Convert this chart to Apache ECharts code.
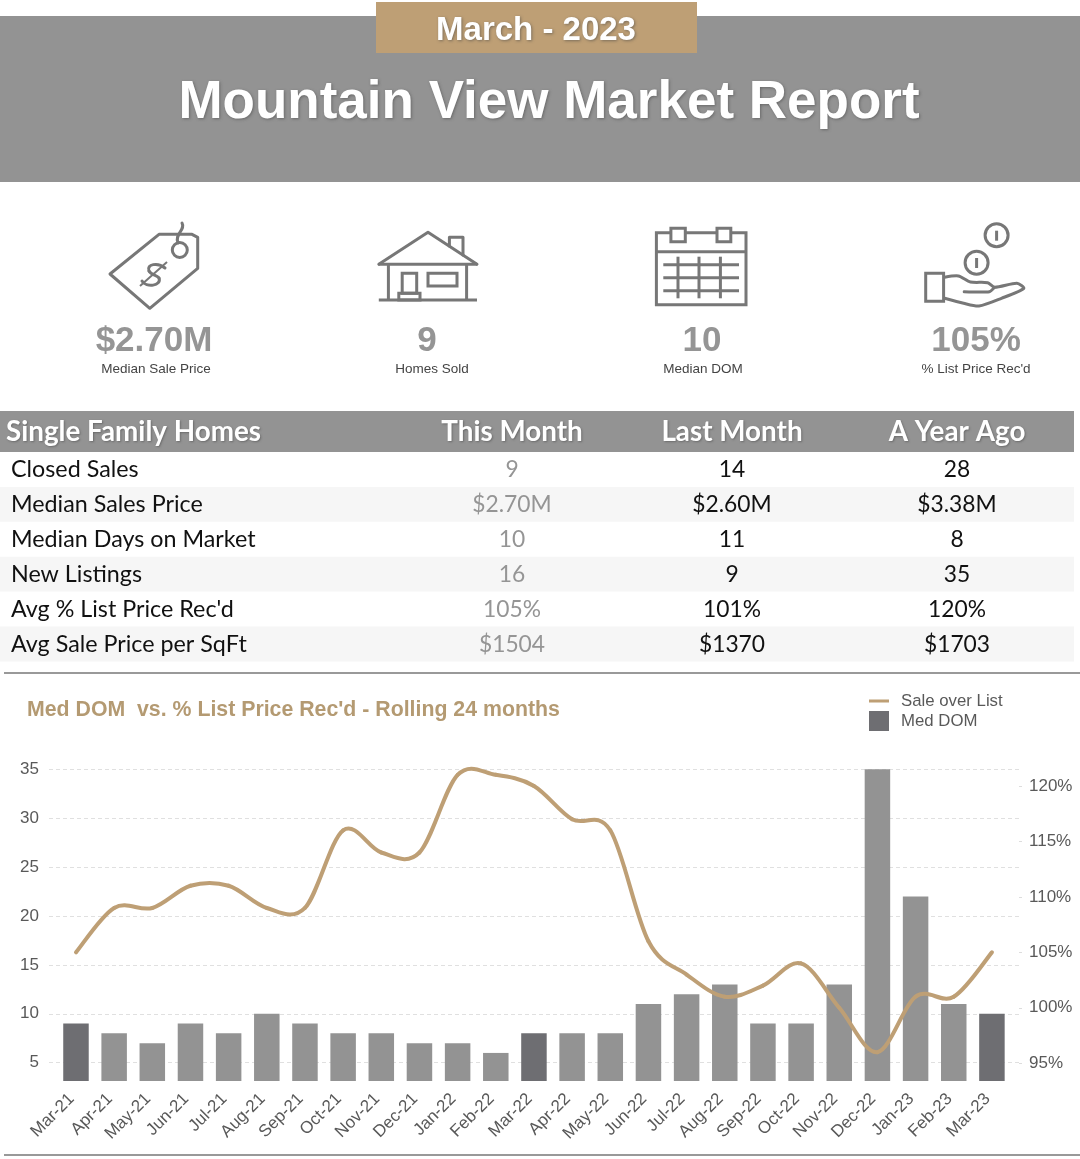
<!DOCTYPE html>
<html>
<head>
<meta charset="utf-8">
<style>html,body{margin:0;padding:0;background:#fff}#c{width:1080px;height:1159px}</style>
<script src="https://cdn.jsdelivr.net/npm/echarts@6/dist/echarts.min.js"></script>
</head>
<body>
<div id="c"></div>
<script>
const months = ['Mar-21','Apr-21','May-21','Jun-21','Jul-21','Aug-21','Sep-21','Oct-21','Nov-21','Dec-21','Jan-22','Feb-22','Mar-22','Apr-22','May-22','Jun-22','Jul-22','Aug-22','Sep-22','Oct-22','Nov-22','Dec-22','Jan-23','Feb-23','Mar-23'];
const medDom = [9,8,7,9,8,10,9,8,8,7,7,6,8,8,8,11,12,13,9,9,13,35,22,11,10];
const saleOverList = [105,109,109,111,111,109,109,116,114,114,121,121,120,117,116,106,103,101,102,104,100,96,101,101,105];
const highlightMonths = ['Mar-21','Mar-22','Mar-23'];
const domTicks = [5,10,15,20,25,30,35];
const pctTicks = [95,100,105,110,115,120];

const reportMonth = 'March - 2023';
const reportTitle = 'Mountain View Market Report';
const chartTitle = "Med DOM  vs. % List Price Rec'd - Rolling 24 months";

const kpiValues = ['$2.70M','9','10','105%'];
const kpiLabels = ['Median Sale Price','Homes Sold','Median DOM',"% List Price Rec'd"];

const tableHeader = ['Single Family Homes','This Month','Last Month','A Year Ago'];
const rowLabels = ['Closed Sales','Median Sales Price','Median Days on Market','New Listings',"Avg % List Price Rec'd",'Avg Sale Price per SqFt'];
const thisMonth = ['9','$2.70M','10','16','105%','$1504'];
const lastMonth = ['14','$2.60M','11','9','101%','$1370'];
const yearAgo = ['28','$3.38M','8','35','120%','$1703'];

const ARIAL = '"Liberation Sans", Arial, sans-serif';
const CAL = 'Lato, "Open Sans", sans-serif';
const GREY = '#939393', DARK = '#6E6E72', TAN = '#BE9F75';

function txt(x, y, text, font, fill, align, extra) {
  return {type:'text', x, y, z:10, silent:true, style:Object.assign({
    text, font, fill, align:align||'center', verticalAlign:'middle',
    textAlign:align||'center', textVerticalAlign:'middle'}, extra||{})};
}
function rect(x, y, w, h, fill, stroke, lw) {
  return {type:'rect', z:stroke?6:1, silent:true, shape:{x,y,width:w,height:h},
    style: stroke ? {fill:'none', stroke, lineWidth:lw||3} : {fill}};
}
const IC = '#777777';
function poly(points, smooth, close) {
  return {type:close?'polygon':'polyline', z:6, silent:true, shape:{points, smooth:smooth||0},
    style:{fill:'none', stroke:IC, lineWidth:3, lineJoin:'round', lineCap:'round'}};
}
function ln(x1,y1,x2,y2,w) {
  return {type:'line', z:6, silent:true, shape:{x1,y1,x2,y2}, style:{stroke:IC, lineWidth:w||3}};
}
function circ(cx,cy,r) {
  return {type:'circle', z:6, silent:true, shape:{cx,cy,r}, style:{fill:'none', stroke:IC, lineWidth:3}};
}
function bez(x1,y1,cpx1,cpy1,cpx2,cpy2,x2,y2,w) {
  return {type:'bezierCurve', z:6, silent:true, shape:{x1,y1,cpx1,cpy1,cpx2,cpy2,x2,y2}, style:{fill:'none', stroke:IC, lineWidth:w||3, lineCap:'round'}};
}

const els = [];
// banner
els.push(rect(0,16,1080,166,GREY));
els.push(Object.assign(rect(376,2,321,51,TAN),{z:2}));
const shadow = {textShadowColor:'rgba(70,70,70,0.55)', textShadowBlur:3, textShadowOffsetX:1, textShadowOffsetY:1};
els.push(txt(536,31,reportMonth,'bold 33px '+ARIAL,'#fff','center',shadow));
els.push(txt(549,103,reportTitle,'bold 53px '+ARIAL,'#fff','center',shadow));

// price tag icon
els.push(poly([[110,274],[159,234.3],[192,234.3],[197.7,237.3],[197.7,268.3],[149.8,308.3]],0,true));
els.push(circ(179.8,250,7.5));
els.push(bez(178,243,174,234,186,230,182,223));
els.push(bez(165,268,158,262,146,264,149,271));
els.push(bez(149,271,151,275,157,275,159,278));
els.push(bez(159,278,162,286,146,288,142,281));
els.push(ln(167,262,140,286,2));
// house icon
els.push(poly([[378.8,264.3],[428,232.3],[477,264.3]]));
els.push(ln(378.8,264.3,477,264.3));
els.push(poly([[449.4,246],[449.4,237.3],[463,237.3],[463,255]]));
els.push(ln(388.4,264.3,388.4,300));
els.push(ln(466.6,264.3,466.6,300));
els.push(ln(378.8,300,477,300));
els.push(rect(402.2,273.3,14.5,20,null,IC));
els.push(rect(398.8,293.3,21.2,6.7,null,IC));
els.push(rect(428,273.3,29,12.7,null,IC));
// calendar icon
els.push(rect(656.4,232.7,89.6,72,null,IC));
els.push(ln(656.4,251.7,746,251.7));
els.push(Object.assign(rect(670.9,228.3,14.4,13.4,null,IC),{style:{fill:'#fff',stroke:IC,lineWidth:3}}));
els.push(Object.assign(rect(717,228.3,13.8,13.4,null,IC),{style:{fill:'#fff',stroke:IC,lineWidth:3}}));
[264.7,277.7,290.7].forEach(y=>els.push(ln(663.3,y,739,y)));
[678,699,720.4].forEach(x=>els.push(ln(x,256.7,x,298.3)));
// hand + coins icon
els.push(circ(996.6,235.3,11.5));
els.push(ln(996.6,230.7,996.6,240.7));
els.push(circ(976.6,262.7,11.5));
els.push(ln(976.6,258,976.6,268));
els.push(rect(925.7,273.3,17.9,28,null,IC));
els.push(poly([[944.6,277.3],[958.4,276],[970.4,282],[987.7,282.7],[994.6,287.3],[1016.9,283.3],[1023.8,288.3],[1001.4,298.3],[979,306],[963.6,303.3],[944.6,298.3]],0.25));
els.push(poly([[964.2,291.7],[989.4,291.7],[994.6,287.3]],0.2));

// KPI text
const kpiValueX = [154,427,702,976];
const kpiLabelX = [156,432,703,976];
kpiValues.forEach((v,i)=>{
  els.push(txt(kpiValueX[i],341,v,'bold 35px '+ARIAL,'#959595'));
  els.push(txt(kpiLabelX[i],369,kpiLabels[i],'13.5px '+ARIAL,'#444'));
});

// table
els.push(rect(0,411,1074,41,GREY));
const colX = [6,512,732,957];
tableHeader.forEach((h,i)=>{
  els.push(txt(colX[i],432,h,'bold 27.8px '+CAL,'#fff',i===0?'left':'center',{textShadowColor:'rgba(70,70,70,0.5)',textShadowBlur:2,textShadowOffsetX:1,textShadowOffsetY:1}));
});
const rowTop = 452, rowH = 34.9;
rowLabels.forEach((label,r)=>{
  if (r%2===1) els.push(rect(0,rowTop+r*rowH,1074,rowH,'#F6F6F6'));
  const y = rowTop + r*rowH + 18;
  els.push(txt(11,y-0.5,label,'23.3px '+CAL,'#111','left'));
  els.push(txt(colX[1],y,thisMonth[r],'22.8px '+CAL,'#959595'));
  els.push(txt(colX[2],y,lastMonth[r],'22.8px '+CAL,'#111'));
  els.push(txt(colX[3],y,yearAgo[r],'22.8px '+CAL,'#111'));
});
// separators
els.push({type:'line',z:1,silent:true,shape:{x1:4,y1:673,x2:1080,y2:673},style:{stroke:'#999',lineWidth:2}});
els.push({type:'line',z:1,silent:true,shape:{x1:4,y1:1155,x2:1080,y2:1155},style:{stroke:'#999',lineWidth:2}});

const DOM_MIN = 3.13, DOM_MAX = 35, PCT_MIN = 93.4, PCT_MAX = 121.5;

// The reference's curve overshoots between points the way a spreadsheet's
// smoothed line does, so each span is a Catmull-Rom curve through the data.
function renderSaleCurve(params, api) {
  const i = params.dataIndex, n = saleOverList.length;
  if (i >= n - 1) return null;
  const P = k => { const j = Math.max(0, Math.min(n-1, k)); return api.coord([j, saleOverList[j]]); };
  const p0 = P(i-1), p1 = P(i), p2 = P(i+1), p3 = P(i+2);
  return {type:'bezierCurve', shape:{
      x1:p1[0], y1:p1[1],
      cpx1:p1[0]+(p2[0]-p0[0])/6, cpy1:p1[1]+(p2[1]-p0[1])/6,
      cpx2:p2[0]-(p3[0]-p1[0])/6, cpy2:p2[1]-(p3[1]-p1[1])/6,
      x2:p2[0], y2:p2[1]},
    style:{fill:'none', stroke:TAN, lineWidth:4, lineCap:'round'}};
}

const chart = echarts.init(document.getElementById('c'), null, {renderer:'canvas'});
chart.setOption({
  animation:false,
  backgroundColor:'#fff',
  title:{text:chartTitle,left:27,top:700,padding:0,textStyle:{fontFamily:ARIAL,fontWeight:'bold',fontSize:21.3,color:'#B49A72'}},
  legend:{
    orient:'vertical',left:869,top:691,padding:0,itemGap:0,itemWidth:20,itemHeight:20,
    textStyle:{fontFamily:ARIAL,fontSize:16.8,color:'#595959',padding:[0,0,0,7]},
    data:[
      {name:'Sale over List',icon:'path://M0 0h.01v.01zM0 8.5h20v3h-20zM20 20h.01v.01z',itemStyle:{color:TAN}},
      {name:'Med DOM',itemStyle:{color:DARK},icon:'rect'}
    ]
  },
  grid:[
    {left:56.9,right:69,top:769.3,height:311.7,containLabel:false},
    {left:49,right:61,top:769.3,height:311.7,z:0}
  ],
  xAxis:[
    {type:'category',gridIndex:0,data:months,boundaryGap:true,
      axisLine:{show:false},axisTick:{show:false},
      axisLabel:{interval:0,rotate:45,margin:11,padding:[0,6,0,0],fontFamily:ARIAL,fontSize:17,color:'#595959'}},
    {type:'value',gridIndex:1,min:0,max:1,show:false}
  ],
  yAxis:[
    {type:'value',gridIndex:0,position:'left',offset:8,min:DOM_MIN,max:DOM_MAX,
      axisLine:{show:false},axisTick:{show:false},splitLine:{show:false},
      axisLabel:{customValues:domTicks,margin:10,fontFamily:ARIAL,fontSize:17,color:'#595959'}},
    {type:'value',gridIndex:0,position:'right',offset:8,min:PCT_MIN,max:PCT_MAX,
      axisLine:{show:false},
      axisTick:{show:true,length:3,customValues:pctTicks,lineStyle:{color:'#dddddd'}},
      splitLine:{show:false},
      axisLabel:{customValues:pctTicks,margin:10,fontFamily:ARIAL,fontSize:17,color:'#595959',formatter:'{value}%'}},
    {type:'value',gridIndex:1,min:DOM_MIN,max:DOM_MAX,
      axisLine:{show:false},axisTick:{show:false,customValues:domTicks},
      axisLabel:{show:false,customValues:domTicks},
      splitLine:{show:true,lineStyle:{color:'#E0E0E0',type:[4,3],width:1}}}
  ],
  series:[
    {name:'Med DOM',type:'bar',xAxisIndex:0,yAxisIndex:0,barWidth:25.5,z:2,
      itemStyle:{color:DARK},
      data:medDom.map((v,i)=>({value:v,itemStyle:{color:highlightMonths.includes(months[i])?DARK:GREY}}))},
    {name:'Sale over List',type:'custom',xAxisIndex:0,yAxisIndex:1,z:3,clip:false,
      encode:{x:0,y:1},itemStyle:{color:TAN},
      data:saleOverList.map((v,i)=>[i,v]),
      renderItem:renderSaleCurve}
  ],
  graphic:{elements:els}
});
</script>
</body>
</html>
